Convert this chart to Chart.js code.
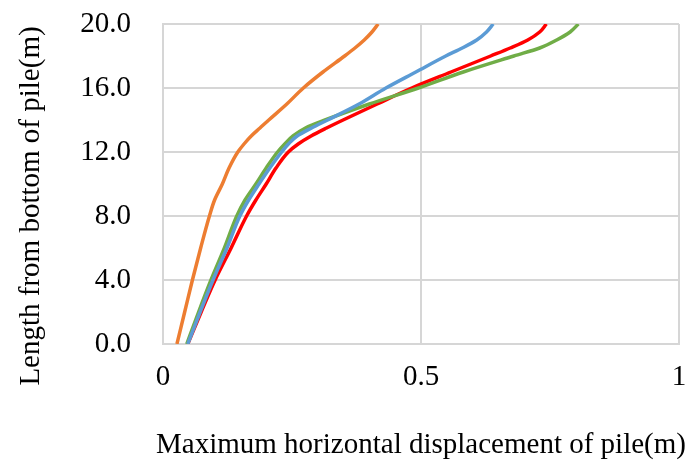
<!DOCTYPE html>
<html>
<head>
<meta charset="utf-8">
<script src="https://cdn.jsdelivr.net/npm/chart.js@4"></script>
<style>
  html, body { margin: 0; padding: 0; background: #fff; }
  #wrap { width: 696px; height: 461px; }
</style>
</head>
<body>
<div id="wrap"><canvas id="chart" width="696" height="461"></canvas></div>
<script>
// Length from bottom of pile (m) at which each curve was read
const depthLevels = [0, 2, 4, 6, 8, 9, 10, 11, 12, 12.5, 13, 13.5, 14, 15, 16, 17, 18, 18.5, 19, 19.5, 20];

// Maximum horizontal displacement (m) for each curve
const orangeDisp = [0.027, 0.042, 0.057, 0.073, 0.090, 0.100, 0.115, 0.128, 0.145, 0.157, 0.171, 0.188, 0.205, 0.240, 0.272, 0.310, 0.352, 0.372, 0.390, 0.405, 0.417];
const blueDisp   = [0.048, 0.072, 0.097, 0.124, 0.149, 0.166, 0.186, 0.207, 0.230, 0.243, 0.260, 0.288, 0.319, 0.380, 0.432, 0.490, 0.548, 0.580, 0.608, 0.627, 0.640];
const redDisp    = [0.048, 0.074, 0.101, 0.132, 0.162, 0.180, 0.200, 0.219, 0.243, 0.262, 0.287, 0.317, 0.349, 0.415, 0.482, 0.558, 0.635, 0.673, 0.707, 0.730, 0.743];
const greenDisp  = [0.046, 0.069, 0.093, 0.119, 0.143, 0.159, 0.180, 0.200, 0.222, 0.236, 0.252, 0.276, 0.314, 0.400, 0.495, 0.582, 0.680, 0.730, 0.763, 0.789, 0.805];

// Axis ticks
const xTickValues = [0, 0.5, 1];
const yTickValues = [0, 4, 8, 12, 16, 20];

const xTitle = 'Maximum horizontal displacement of pile(m)';
const yTitle = 'Length from bottom of pile(m)';

function toPoints(disp) {
    return disp.map((x, i) => ({ x: x, y: depthLevels[i] }));
}

function makeSeries(disp, color) {
    return {
        data: toPoints(disp),
        borderColor: color,
        backgroundColor: color,
        borderWidth: 3.5,
        pointRadius: 0,
        showLine: true,
        cubicInterpolationMode: 'monotone',
        fill: false
    };
}

// Axis titles drawn at fixed spots, like the original figure
const axisTitles = {
    id: 'axisTitles',
    afterDraw(chart) {
        const ctx = chart.ctx;
        ctx.save();
        ctx.fillStyle = '#000';
        ctx.font = '29px "Liberation Serif", "Times New Roman", serif';
        ctx.textAlign = 'center';
        ctx.textBaseline = 'alphabetic';
        ctx.fillText(xTitle, 421, 453);
        ctx.translate(39, 206);
        ctx.rotate(-Math.PI / 2);
        ctx.fillText(yTitle, 0, 0);
        ctx.restore();
    }
};

const gridColor = '#d6d6d6';
const tickFont = { family: '"Liberation Serif", "Times New Roman", serif', size: 29 };

new Chart(document.getElementById('chart'), {
    type: 'scatter',
    data: {
        datasets: [
            makeSeries(blueDisp, '#5B9BD5'),
            makeSeries(greenDisp, '#70AD47'),
            makeSeries(redDisp, '#FF0000'),
            makeSeries(orangeDisp, '#ED7D31')
        ]
    },
    options: {
        responsive: false,
        animation: false,
        indexAxis: 'y',
        layout: { padding: { top: 24, right: 17, left: 0, bottom: 0 } },
        plugins: {
            legend: { display: false },
            tooltip: { enabled: false }
        },
        scales: {
            x: {
                type: 'linear',
                min: 0,
                max: 1,
                afterBuildTicks: scale => { scale.ticks = xTickValues.map(v => ({ value: v })); },
                afterFit: scale => {
                    scale.height = 117;
                    scale.paddingLeft = 0;
                    scale.paddingRight = 0;
                },
                ticks: {
                    color: '#000',
                    padding: 16,
                    maxRotation: 0,
                    font: tickFont,
                    callback: v => String(v)
                },
                grid: { color: gridColor, lineWidth: 2, drawTicks: false },
                border: { color: gridColor, width: 2 }
            },
            y: {
                type: 'linear',
                min: 0,
                max: 20,
                afterBuildTicks: scale => { scale.ticks = yTickValues.map(v => ({ value: v })); },
                afterFit: scale => {
                    scale.width = 163;
                    scale.paddingTop = 0;
                    scale.paddingBottom = 0;
                },
                ticks: {
                    color: '#000',
                    padding: 32,
                    font: tickFont,
                    callback: v => v.toFixed(1)
                },
                grid: { color: gridColor, lineWidth: 2, drawTicks: false },
                border: { color: gridColor, width: 2 }
            }
        }
    },
    plugins: [axisTitles]
});
</script>
</body>
</html>
